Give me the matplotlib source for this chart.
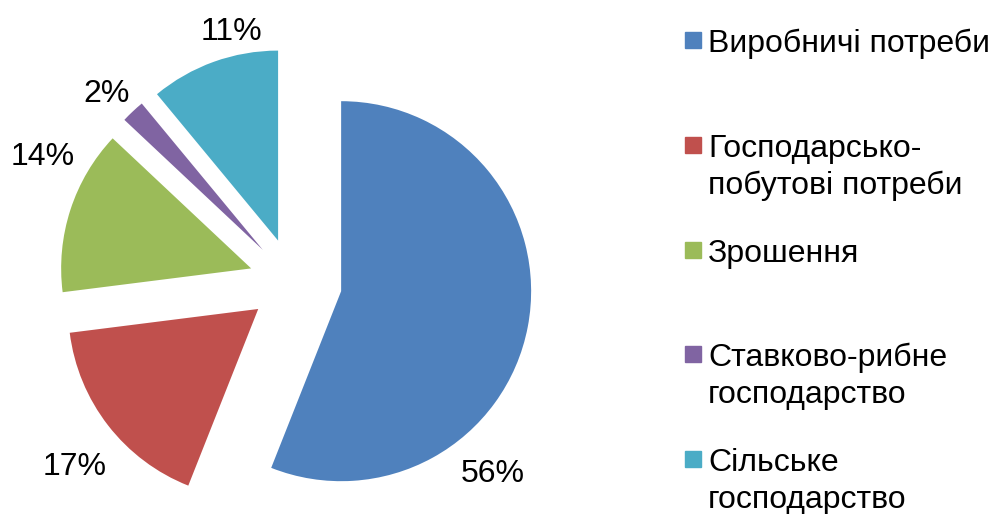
import matplotlib
matplotlib.use('Agg')
import matplotlib.pyplot as plt
from matplotlib.patches import Rectangle

# water use by purpose, percent
categories = ['Виробничі потреби', 'Господарсько-\nпобутові потреби', 'Зрошення',
              'Ставково-рибне\nгосподарство', 'Сільське\nгосподарство']
shares = [56, 17, 14, 2, 11]
colors = ['#4F81BD', '#C0504D', '#9BBB59', '#8064A2', '#4BACC6']

W, H = 992, 514
FS = 23
plt.rcParams['font.family'] = ['Liberation Sans', 'DejaVu Sans']

fig = plt.figure(figsize=(W / 100, H / 100), dpi=100)
ax = fig.add_axes([0, 0, 1, 1])

# pie drawn in pixel units (y measured from bottom)
cx, cy, r = 293, H - 282, 190
wedges, texts, autotexts = ax.pie(shares, colors=colors, startangle=90, counterclock=False,
                                  center=(cx, cy), radius=r, explode=[49, 44, 44, 44, 44],
                                  autopct='%1.0f%%', textprops=dict(fontsize=FS, color='black'))

# percent labels placed outside the slices
pct_pos = [(493, 482), (75, 475), (43, 165), (107, 102), (231, 40)]
for t, (x, y) in zip(autotexts, pct_pos):
    t.set_position((x, H - y))
    t.set_ha('center')
    t.set_va('baseline')

# legend on the right, one slot per entry; lines 37 px apart
line_h = 37
for i, (lab, col) in enumerate(zip(categories, colors)):
    base = 52 + 104.8 * i
    ax.add_patch(Rectangle((685, H - base + 4), 16, 16, color=col, clip_on=False))
    for j, line in enumerate(lab.split('\n')):
        ax.text(708, H - base - j * line_h, line, fontsize=FS, va='baseline', ha='left')

ax.set_xlim(0, W)
ax.set_ylim(0, H)
ax.set_aspect('equal')
ax.axis('off')

fig.savefig('out.png', dpi=100)
